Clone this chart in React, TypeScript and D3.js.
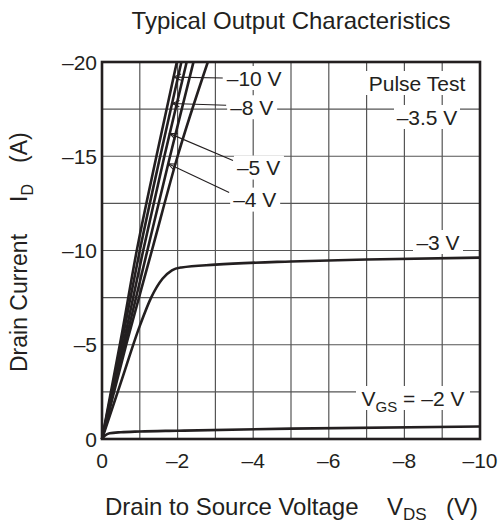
import React from "react";
import * as d3 from "d3";

// axis ticks and grid
const vdsTicks = [0, -2, -4, -6, -8, -10];
const idTicks = [0, -5, -10, -15, -20];
const vdsGrid = [0, -1, -2, -3, -4, -5, -6, -7, -8, -9, -10];
const idGrid = [0, -2.5, -5, -7.5, -10, -12.5, -15, -17.5, -20];

// curves: [VDS (V), ID (A)]
const curveM10: [number, number][] = [[0, 0], [-0.5, -5.3], [-0.92, -10], [-1.44, -15], [-1.98, -20]];
const curveM8: [number, number][] = [[0, 0], [-0.52, -5.1], [-1.0, -10], [-1.54, -15], [-2.1, -20]];
const curveM5: [number, number][] = [[0, 0], [-0.56, -5.0], [-1.09, -10], [-1.65, -15], [-2.24, -20]];
const curveM4: [number, number][] = [[0, 0], [-0.6, -5.0], [-1.2, -10], [-1.8, -15], [-2.42, -20]];
const curveM35: [number, number][] = [[0, 0], [-0.64, -5.0], [-1.32, -10], [-2.0, -15], [-2.8, -20]];
const curveM3: [number, number][] = [
  [0, 0], [-0.5, -3.0], [-1.0, -6.0], [-1.3, -7.5], [-1.6, -8.5], [-1.85, -8.95],
  [-2.1, -9.1], [-3, -9.25], [-5, -9.42], [-7, -9.52], [-10, -9.62],
];
const curveM2: [number, number][] = [
  [0, 0], [-0.08, -0.18], [-0.2, -0.3], [-0.5, -0.36], [-1, -0.4], [-2, -0.44],
  [-5, -0.55], [-10, -0.66],
];
const curves = [curveM10, curveM8, curveM5, curveM4, curveM35, curveM3, curveM2];

// labels with leader arrows: text, target curve, ID where the arrow hits, text position (V, A)
const leaderLabels = [
  { text: "–10 V", curve: curveM10, hitId: -19.2, tx: -3.3, ty: -19.15, dy: 0 },
  { text: "–8 V", curve: curveM8, hitId: -17.8, tx: -3.39, ty: -17.6, dy: -2 },
  { text: "–5 V", curve: curveM5, hitId: -16.2, tx: -3.57, ty: -14.4, dy: -7 },
  { text: "–4 V", curve: curveM4, hitId: -14.6, tx: -3.47, ty: -12.7, dy: -7 },
];

const width = 501;
const height = 524;
const margin = { top: 62, right: 21, bottom: 85, left: 102 };
const font = "'Liberation Sans', Arial, Helvetica, sans-serif";
const ink = "#231f20";

// interpolate VDS on a curve at a given ID
const vdsAt = (curve: [number, number][], id: number) => {
  for (let i = 1; i < curve.length; i++) {
    const [v0, i0] = curve[i - 1];
    const [v1, i1] = curve[i];
    if ((id <= i0 && id >= i1) || (id >= i0 && id <= i1)) {
      const t = (id - i0) / (i1 - i0);
      return v0 + t * (v1 - v0);
    }
  }
  return curve[curve.length - 1][0];
};

const App = () => {
  const innerWidth = width - margin.left - margin.right;
  const innerHeight = height - margin.top - margin.bottom;

  const xScale = d3.scaleLinear().domain([0, -10]).range([0, innerWidth]);
  const yScale = d3.scaleLinear().domain([0, -20]).range([innerHeight, 0]);

  const line = d3
    .line<[number, number]>()
    .x((d) => xScale(d[0]))
    .y((d) => yScale(d[1]))
    .curve(d3.curveMonotoneX);

  // plain labels with white backing: cx, cy = center in page pixels
  const plainLabel = (key: string, cx: number, cy: number, w: number, content: React.ReactNode) => (
    <g key={key} transform={`translate(${cx - margin.left},${cy - margin.top})`}>
      <rect x={-w / 2 - 3} y={-12} width={w + 6} height={24} fill="white" />
      <text x={0} y={7.5} textAnchor="middle" fontSize={21} fill={ink}>
        {content}
      </text>
    </g>
  );

  return (
    <svg
      width={width}
      height={height}
      style={{ position: "absolute", left: 0, top: 0, background: "white" }}
      fontFamily={font}
    >
      <text x={291} y={29} textAnchor="middle" fontSize={24} fill={ink}>
        Typical Output Characteristics
      </text>

      <g transform={`translate(${margin.left},${margin.top})`}>
        {
          // grid
          vdsGrid.map((v) => (
            <line key={"gx" + v} x1={xScale(v)} x2={xScale(v)} y1={0} y2={innerHeight} stroke="#555" strokeWidth={1.2} />
          ))
        }
        {idGrid.map((v) => (
          <line key={"gy" + v} x1={0} x2={innerWidth} y1={yScale(v)} y2={yScale(v)} stroke="#555" strokeWidth={1.2} />
        ))}

        {plainLabel("pulse", 417, 83, 100, "Pulse Test")}
        {plainLabel("m35", 427, 117, 60, "–3.5 V")}
        {plainLabel("m3", 438, 242, 44, "–3 V")}
        {plainLabel(
          "m2",
          413,
          398,
          108,
          <>
            V<tspan fontSize={15} dy={6}>GS</tspan>
            <tspan dy={-6}> = –2 V</tspan>
          </>
        )}

        {leaderLabels.map((l) => {
          const tx = xScale(l.tx);
          const ty = yScale(l.ty);
          return <rect key={"bg" + l.text} x={tx - 3} y={ty - 12} width={l.text.length > 4 ? 62 : 50} height={24} fill="white" />;
        })}

        {
          // curves
          curves.map((c, i) => (
            <path key={i} d={line(c) || ""} fill="none" stroke={ink} strokeWidth={2.6} strokeLinejoin="round" />
          ))
        }

        {
          // leader labels
          leaderLabels.map((l) => {
            const tx = xScale(l.tx);
            const ty = yScale(l.ty);
            const sx = tx - 4;
            const sy = ty + l.dy;
            const ex = xScale(vdsAt(l.curve, l.hitId));
            const ey = yScale(l.hitId);
            const ang = Math.atan2(sy - ey, sx - ex);
            const len = 8;
            const spread = 0.4;
            return (
              <g key={l.text}>
                <line x1={sx} y1={sy} x2={ex} y2={ey} stroke={ink} strokeWidth={1.1} />
                <polyline
                  points={`${ex + len * Math.cos(ang + spread)},${ey + len * Math.sin(ang + spread)} ${ex},${ey} ${
                    ex + len * Math.cos(ang - spread)
                  },${ey + len * Math.sin(ang - spread)}`}
                  fill="none"
                  stroke={ink}
                  strokeWidth={1.1}
                />
                <text x={tx} y={ty + 7.5} fontSize={21} fill={ink}>
                  {l.text}
                </text>
              </g>
            );
          })
        }

        <rect x={0} y={0} width={innerWidth} height={innerHeight} fill="none" stroke={ink} strokeWidth={2.6} />

        {
          // X ticks
          vdsTicks.map((v) => (
            <text key={"xt" + v} x={xScale(v)} y={innerHeight + 29} textAnchor="middle" fontSize={21} fill={ink}>
              {v === 0 ? "0" : "–" + Math.abs(v)}
            </text>
          ))
        }
        {
          // Y ticks
          idTicks.map((v) => (
            <text key={"yt" + v} x={-5} y={yScale(v) + 7.5} textAnchor="end" fontSize={21} fill={ink}>
              {v === 0 ? "0" : "–" + Math.abs(v)}
            </text>
          ))
        }
      </g>

      {/* X axis title */}
      <text x={105} y={515} fontSize={24} fill={ink}>
        Drain to Source Voltage
      </text>
      <text x={387} y={515} fontSize={24} fill={ink}>
        V<tspan fontSize={17} dy={5}>DS</tspan>
      </text>
      <text x={478} y={515} textAnchor="end" fontSize={24} fill={ink}>
        (V)
      </text>

      {/* Y axis title */}
      <g transform="translate(27,372) rotate(-90)">
        <text x={0} y={0} fontSize={23} fill={ink}>
          Drain Current
        </text>
        <text x={170} y={0} fontSize={23} fill={ink}>
          I<tspan fontSize={16} dy={6}>D</tspan>
        </text>
        <text x={209} y={0} fontSize={23} fill={ink}>
          (A)
        </text>
      </g>
    </svg>
  );
};

export default App;
